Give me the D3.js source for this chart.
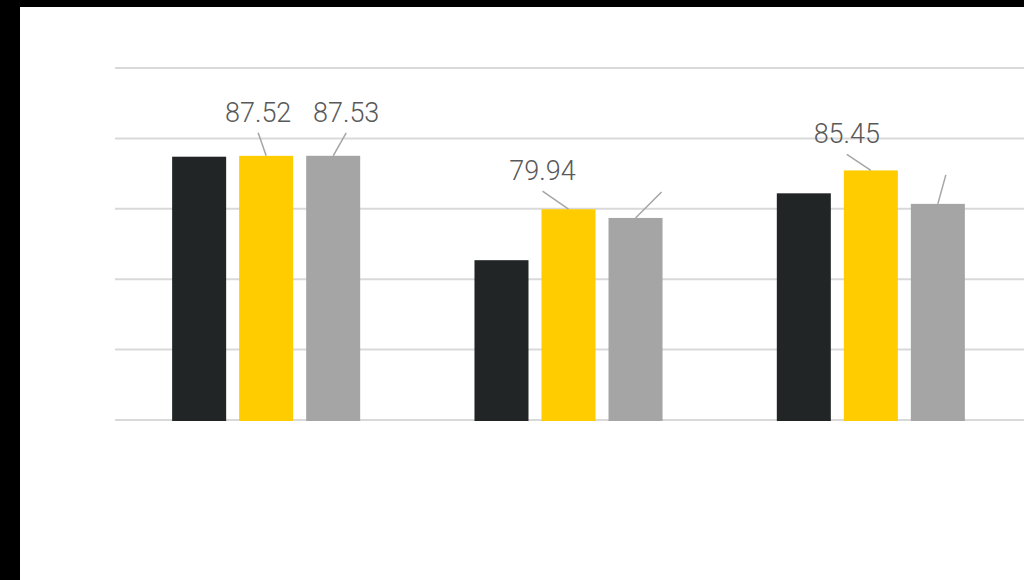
<!DOCTYPE html>
<html>
<head>
<meta charset="utf-8">
<script src="https://cdn.jsdelivr.net/npm/d3@7"></script>
<style>
  html, body { margin: 0; padding: 0; background: #000; }
  svg { display: block; }
</style>
</head>
<body>
<svg id="chart" width="1024" height="580"></svg>
<script>
// ---- data ----
const categories = ["Group 1", "Group 2", "Group 3"];
const seriesNames = ["Series 1", "Series 2", "Series 3"];
const series1 = [87.40, 72.70, 82.20];
const series2 = [87.52, 79.94, 85.45];
const series3 = [87.53, 78.70, 80.70];
const yTicks = [50, 60, 70, 80, 90, 100];
// label text per series (null = no visible text)
const labels2 = ["87.52", "79.94", "85.45"];
const labels3 = ["87.53", "", ""];

// ---- layout / style ----
const colors = ["#212526", "#FFCC00", "#A5A5A5"];
// leader-line offsets from bar top centre (label anchor), per series/category
const leaderOffsets = {
  1: [[-8, -23], [-26, -18], [-24, -16]],
  2: [[13, -23], [26, -26], [8, -29]]
};

const svg = d3.select("#chart");
svg.append("rect").attr("x", 20).attr("y", 7).attr("width", 1004).attr("height", 573).attr("fill", "#fff");

const x0 = d3.scaleBand().domain(categories).range([115, 1022]).paddingInner(0.378).paddingOuter(0.189);
const x1 = d3.scaleBand().domain(seriesNames).range([0, x0.bandwidth()]).paddingInner(0.194).paddingOuter(0);
const y = d3.scaleLinear().domain([50, 100]).range([420, 68]);

// gridlines
svg.append("g").selectAll("line").data(yTicks).join("line")
  .attr("x1", 115).attr("x2", 1024)
  .attr("y1", d => y(d)).attr("y2", d => y(d))
  .attr("stroke", "#D9D9D9").attr("stroke-width", 2);

const allSeries = [series1, series2, series3];
const rows = [];
allSeries.forEach((s, si) => s.forEach((v, ci) => rows.push({si, ci, v})));

svg.append("g").selectAll("rect").data(rows).join("rect")
  .attr("x", d => x0(categories[d.ci]) + x1(seriesNames[d.si]))
  .attr("width", x1.bandwidth())
  .attr("y", d => y(d.v))
  .attr("height", d => y(50) - y(d.v) + 1)
  .attr("fill", d => colors[d.si]);

// labels with leader lines
const labelSets = {1: labels2, 2: labels3};
const lg = svg.append("g");
Object.keys(labelSets).forEach(k => {
  const si = +k;
  labelSets[k].forEach((txt, ci) => {
    const v = allSeries[si][ci];
    const cx = x0(categories[ci]) + x1(seriesNames[si]) + x1.bandwidth() / 2;
    const cy = y(v);
    const [dx, dy] = leaderOffsets[si][ci];
    lg.append("line")
      .attr("x1", cx).attr("y1", cy)
      .attr("x2", cx + dx).attr("y2", cy + dy)
      .attr("stroke", "#A5A5A5").attr("stroke-width", 1.5);
    if (txt) {
      lg.append("text")
        .attr("x", cx + dx).attr("y", cy + dy - 11)
        .attr("text-anchor", "middle")
        .attr("font-family", "Roboto")
        .attr("font-weight", 300)
        .attr("font-size", 27)
        .attr("fill", "#595959")
        .text(txt);
    }
  });
});
</script>
</body>
</html>
